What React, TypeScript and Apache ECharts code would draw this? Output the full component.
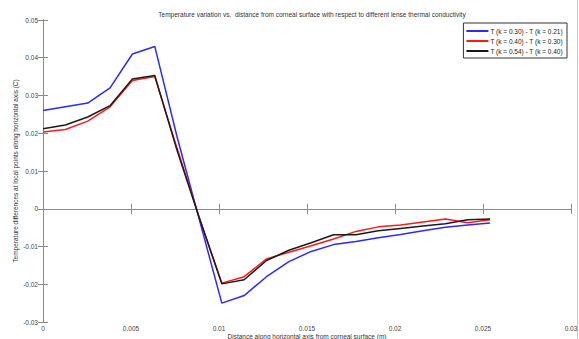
import React, { useEffect, useRef } from "react";
import * as echarts from "echarts";

const distance = [0, 0.00127, 0.00254, 0.00381, 0.00508, 0.00635, 0.00762, 0.00889, 0.01016, 0.01143, 0.0127, 0.01397, 0.01524, 0.01651, 0.01778, 0.01905, 0.02032, 0.02159, 0.02286, 0.02413, 0.0254];
const diffBlue = [0.026, 0.027, 0.028, 0.032, 0.041, 0.043, 0.019, -0.003, -0.025, -0.023, -0.018, -0.014, -0.0113, -0.0095, -0.0087, -0.0077, -0.0068, -0.0058, -0.0049, -0.0043, -0.0038];
const diffRed = [0.0203, 0.021, 0.0232, 0.027, 0.034, 0.035, 0.016, -0.0025, -0.0197, -0.018, -0.0133, -0.0115, -0.0098, -0.008, -0.006, -0.0048, -0.0043, -0.0035, -0.0027, -0.0037, -0.0029];
const diffBlack = [0.0212, 0.0222, 0.0243, 0.0273, 0.0344, 0.0353, 0.0154, -0.0025, -0.0199, -0.0188, -0.0137, -0.011, -0.009, -0.0069, -0.0069, -0.0058, -0.0052, -0.0046, -0.004, -0.0029, -0.0027];
const seriesNames = ["T (k = 0.30) - T (k = 0.21)", "T (k = 0.40) - T (k = 0.30)", "T (k = 0.54) - T (k = 0.40)"];
const title = "Temperature variation vs.  distance from corneal surface with respect to different lense thermal conductivity";
const xName = "Distance along horizontal axis from corneal surface (m)";
const yName = "Temperature differences at local points along horizontal axis (C)";

const FONT = "Liberation Sans";

export default function App() {
  const ref = useRef<HTMLDivElement>(null);
  useEffect(() => {
    if (!ref.current) return;
    const chart = echarts.init(ref.current, null, { renderer: "svg" });
    const pair = (ys: number[]) => distance.map((x, i) => [x, ys[i]]);
    const axisLine = { show: true, lineStyle: { color: "#8a8a8a", width: 1 } };
    const tick = { show: true, inside: true, length: 5, lineStyle: { color: "#8a8a8a" } };
    const lbl = { fontSize: 6.5, color: "#444", fontFamily: FONT };
    chart.setOption({
      animation: false,
      backgroundColor: "#fff",
      title: {
        text: title,
        left: 307,
        textAlign: "center",
        top: 6,
        textStyle: { fontSize: 6.5, fontWeight: "normal", color: "#333", fontFamily: FONT },
      },
      grid: { left: 43, top: 20, width: 528, height: 302, containLabel: false, outerBoundsMode: "none" },
      legend: {
        orient: "vertical",
        right: 12,
        top: 23,
        padding: [4, 4, 3, 3],
        itemGap: 2,
        itemWidth: 22,
        itemHeight: 2,
        icon: "rect",
        borderColor: "#333",
        borderWidth: 1,
        backgroundColor: "#fff",
        textStyle: { fontSize: 6.5, color: "#222", fontFamily: FONT, padding: [0, 0, 0, -3], lineHeight: 8 },
        data: seriesNames,
      },
      xAxis: [
        {
          type: "value",
          min: 0,
          max: 0.03,
          interval: 0.005,
          name: xName,
          nameLocation: "middle",
          nameGap: 11,
          nameMoveOverlap: false,
          nameTextStyle: { fontSize: 6.5, color: "#333", fontFamily: FONT, verticalAlign: "top" },
          axisLine,
          axisTick: tick,
          splitLine: { show: false },
          axisLabel: { ...lbl, margin: 3 },
        },
        {
          type: "value",
          position: "top",
          min: 0,
          max: 0.03,
          interval: 0.005,
          axisLine,
          axisTick: tick,
          splitLine: { show: false },
          axisLabel: { show: false },
        },
      ],
      yAxis: [
        {
          type: "value",
          min: -0.03,
          max: 0.05,
          interval: 0.01,
          name: yName,
          nameLocation: "middle",
          nameGap: 24,
          nameMoveOverlap: false,
          nameTextStyle: { fontSize: 6.5, color: "#333", fontFamily: FONT },
          axisLine,
          axisTick: tick,
          splitLine: { show: false },
          axisLabel: { ...lbl, margin: 5 },
        },
        {
          type: "value",
          position: "right",
          min: -0.03,
          max: 0.05,
          interval: 0.01,
          axisLine,
          axisTick: tick,
          splitLine: { show: false },
          axisLabel: { show: false },
        },
      ],
      series: [
        { name: seriesNames[0], type: "line", data: pair(diffBlue), symbol: "none", lineStyle: { color: "#2b2bff", width: 1.5 }, itemStyle: { color: "#2b2bff" } },
        { name: seriesNames[1], type: "line", data: pair(diffRed), symbol: "none", lineStyle: { color: "#ff1a1a", width: 1.5 }, itemStyle: { color: "#ff1a1a" } },
        { name: seriesNames[2], type: "line", data: pair(diffBlack), symbol: "none", lineStyle: { color: "#1a1a1a", width: 1.5 }, itemStyle: { color: "#1a1a1a" } },
      ],
      graphic: [
        { type: "line", shape: { x1: 577.5, y1: 0, x2: 577.5, y2: 339 }, style: { stroke: "#f5b0b0", lineWidth: 1 } },
      ],
    });
    return () => chart.dispose();
  }, []);
  return <div ref={ref} style={{ position: "absolute", left: 0, top: 0, width: 579, height: 339 }} />;
}
